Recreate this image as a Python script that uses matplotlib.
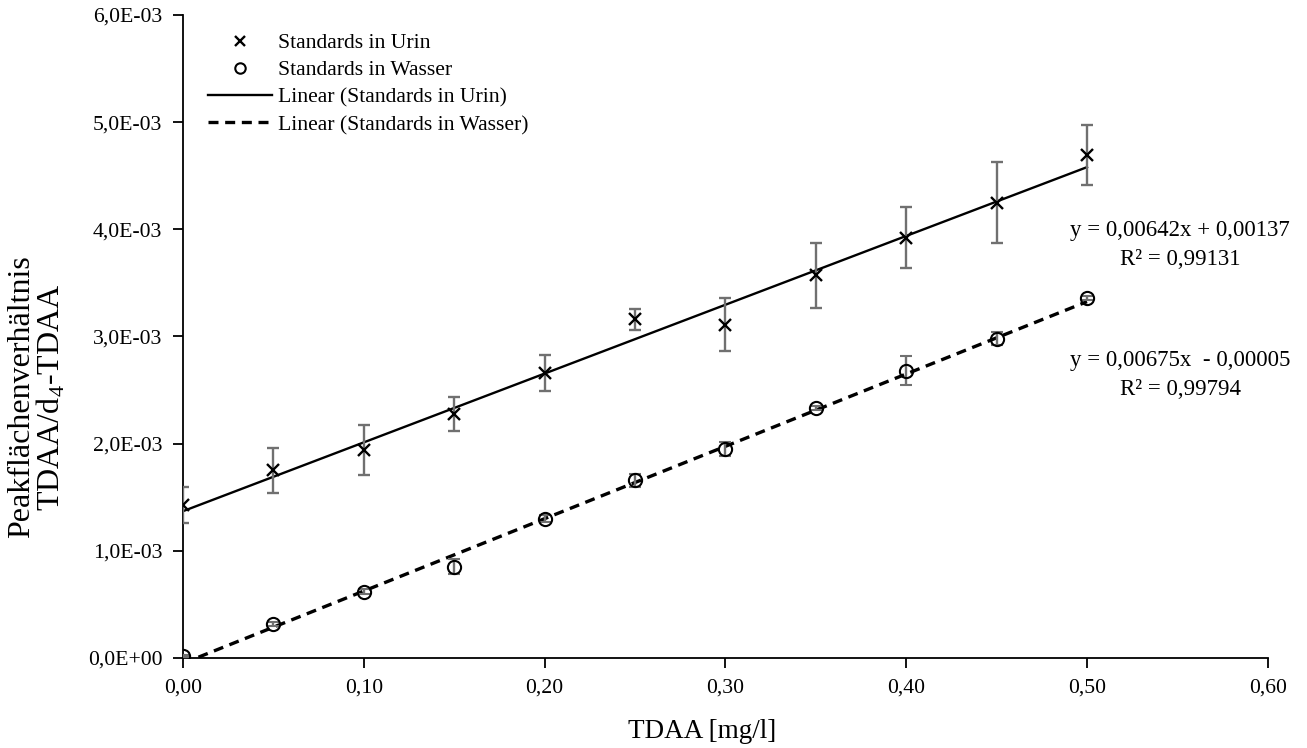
import numpy as np
import matplotlib
matplotlib.use('Agg')
import matplotlib.pyplot as plt
from matplotlib.lines import Line2D
from matplotlib.ticker import FuncFormatter, MultipleLocator

plt.rcParams['font.family'] = ['Liberation Serif', 'DejaVu Serif']
plt.rcParams['mathtext.fontset'] = 'custom'
plt.rcParams['mathtext.rm'] = 'Liberation Serif'

# data (y in units of 1e-3)
conc = [0.00, 0.05, 0.10, 0.15, 0.20, 0.25, 0.30, 0.35, 0.40, 0.45, 0.50]
urin = [1.43, 1.75, 1.94, 2.28, 2.66, 3.16, 3.11, 3.57, 3.92, 4.25, 4.69]
urin_err = [0.17, 0.21, 0.23, 0.16, 0.17, 0.10, 0.245, 0.30, 0.285, 0.38, 0.28]
wasser = [0.02, 0.32, 0.62, 0.85, 1.30, 1.66, 1.95, 2.33, 2.68, 2.98, 3.36]
wasser_err = [0.01, 0.02, 0.02, 0.07, 0.03, 0.06, 0.065, 0.02, 0.135, 0.06, 0.02]

# trendline coefficients (slope, intercept) from the chart labels
fit_urin = (0.00642, 0.00137)
fit_wasser = (0.00675, -0.00005)
eq_urin = 'y = 0,00642x + 0,00137\nR² = 0,99131'
eq_wasser = 'y = 0,00675x  - 0,00005\nR² = 0,99794'

x = np.array(conc)
fig = plt.figure(figsize=(13.07, 7.48), dpi=100)
ax = fig.add_axes([0.140, 0.1203, 0.830, 0.8597])

err_kw = dict(ecolor='#707070', elinewidth=1.7, capsize=4.5, capthick=1.7, ls='none')
ax.errorbar(x, np.array(urin) * 1e-3, yerr=np.array(urin_err) * 1e-3, marker='x',
            ms=9, mew=1.7, color='black', zorder=3, **err_kw)
ax.errorbar(x, np.array(wasser) * 1e-3, yerr=np.array(wasser_err) * 1e-3, marker='o',
            ms=9.5, mew=1.5, mfc='none', color='black', zorder=3, **err_kw)

xl = np.array([conc[0], conc[-1]])
ax.plot(xl, fit_urin[0] * xl + fit_urin[1], color='black', lw=1.7, zorder=2)
ax.plot(xl, fit_wasser[0] * xl + fit_wasser[1], color='black', lw=2.4, ls=(0, (3.0, 2.0)), zorder=2)

ax.text(0.5515, 3.85e-3, eq_urin, ha='center', va='center', fontsize=16.5, linespacing=1.5,
        clip_on=False)
ax.text(0.5515, 2.64e-3, eq_wasser, ha='center', va='center', fontsize=16.5, linespacing=1.5,
        clip_on=False)

ax.set_xlim(0, 0.6)
ax.set_ylim(0, 6e-3)
ax.xaxis.set_major_locator(MultipleLocator(0.1))
ax.yaxis.set_major_locator(MultipleLocator(1e-3))
ax.xaxis.set_major_formatter(FuncFormatter(lambda v, p: f'{v:.2f}'.replace('.', ',')))
ax.yaxis.set_major_formatter(FuncFormatter(lambda v, p: f'{v:.1E}'.replace('.', ',')))
for s in ['top', 'right']:
    ax.spines[s].set_visible(False)
for s in ['left', 'bottom']:
    ax.spines[s].set_linewidth(1.3)
ax.tick_params(axis='both', direction='out', length=7, width=1.3, labelsize=15.7, pad=8)

fig.text(702 / 1307, 1 - 732 / 748, 'TDAA [mg/l]', ha='center', va='center', fontsize=19.5)
fig.text(37 / 1307, 1 - 397 / 748, 'Peakflächenverhältnis\nTDAA/d$_4$-TDAA', ha='center',
         va='center', rotation=90, fontsize=23, linespacing=0.95)

handles = [
    Line2D([], [], ls='none', marker='x', ms=7.5, mew=1.7, color='black'),
    Line2D([], [], ls='none', marker='o', ms=7.5, mew=1.5, mfc='none', color='black'),
    Line2D([], [], color='black', lw=1.7),
    Line2D([], [], color='black', lw=2.4, ls=(0, (3.0, 2.0))),
]
labels = ['Standards in Urin', 'Standards in Wasser', 'Linear (Standards in Urin)',
          'Linear (Standards in Wasser)']
ax.legend(handles, labels, loc='upper left', bbox_to_anchor=(0.023, 0.972), frameon=False,
          fontsize=15.6, handlelength=2.95, handletextpad=0.28, labelspacing=0.33,
          borderpad=0, borderaxespad=0)

fig.savefig('out.png', dpi=100)
